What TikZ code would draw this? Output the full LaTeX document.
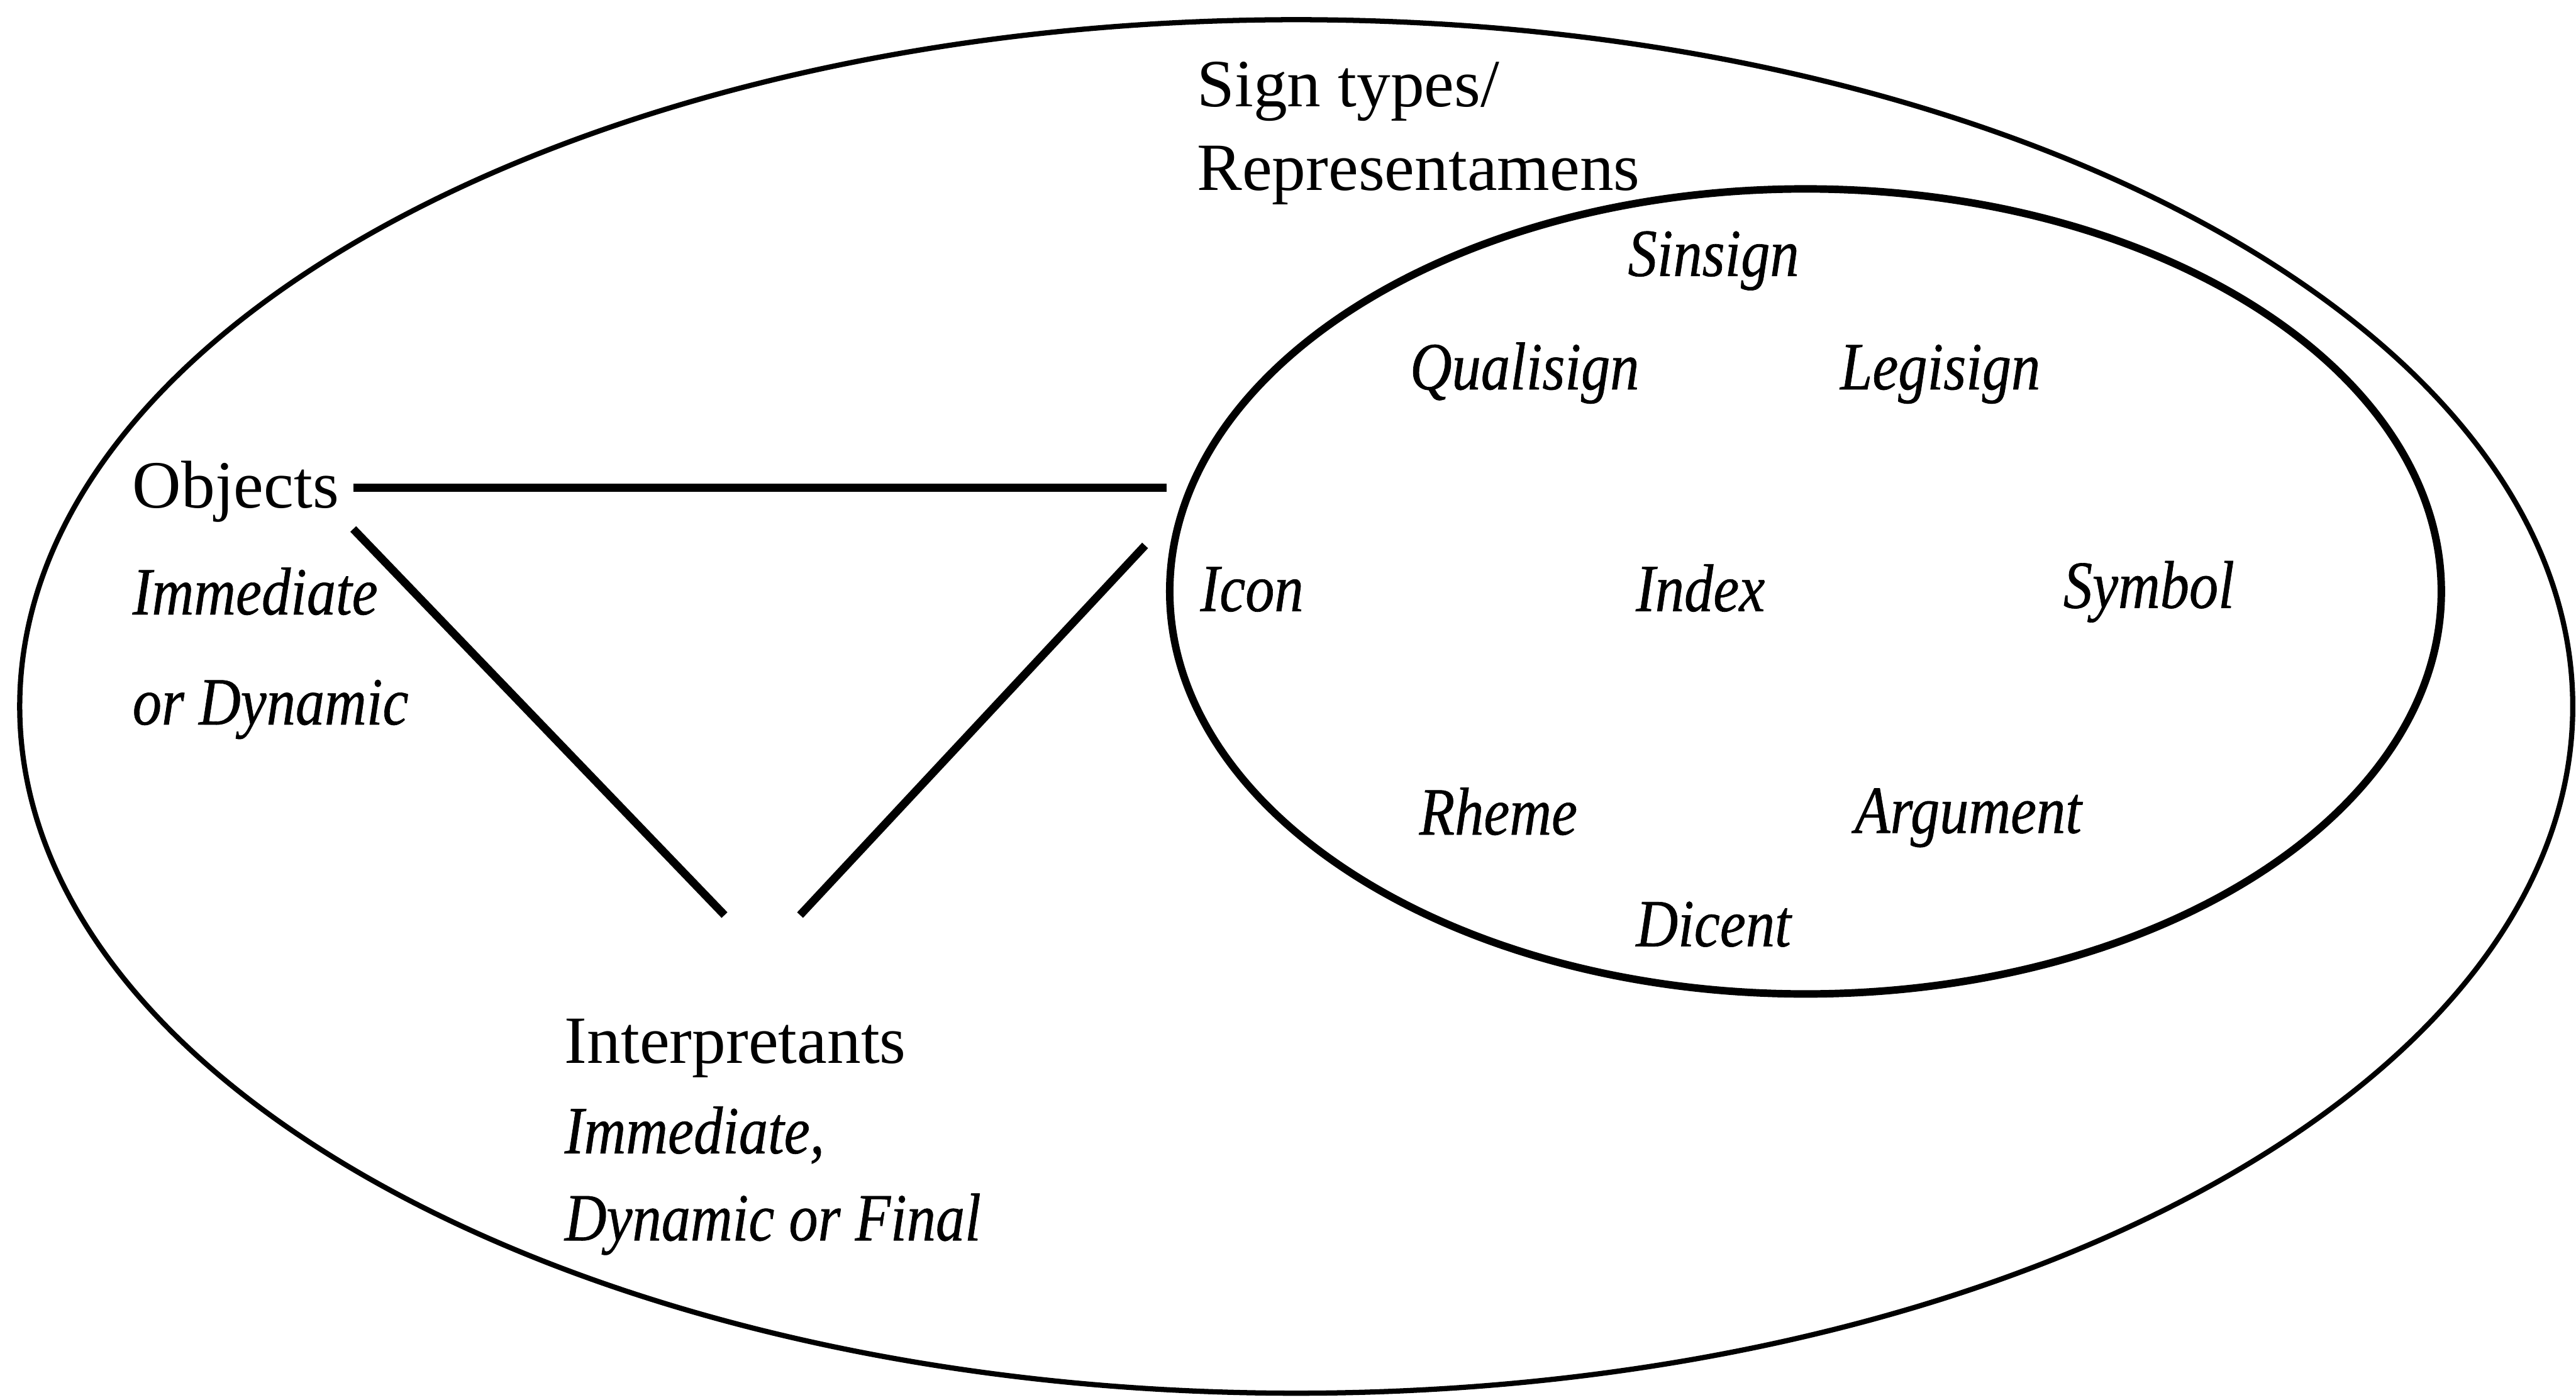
\documentclass[tikz,border=0pt]{standalone}
\usepackage{fontspec}
\setmainfont{Liberation Serif}[ItalicFeatures={FakeStretch=0.86,FakeBold=0.6}]
\begin{document}
\begin{tikzpicture}[x=1cm,y=1cm,
  lbl/.style={inner sep=0pt,font=\fontsize{11.7}{14}\selectfont},
  itl/.style={inner sep=0pt,font=\fontsize{11.7}{14}\selectfont\itshape},
  ilbl/.style={itl,anchor=base},
  conn/.style={line width=1.4pt}]
\useasboundingbox (0,0) rectangle (15.68,8.52);
% outer and inner ellipses
\draw[line width=0.9pt] (7.89,4.22) ellipse [x radius=7.77, y radius=4.18];
\draw[line width=1.3pt] (10.99,4.92) ellipse [x radius=3.87, y radius=2.45];
% texts
\node[lbl,anchor=base west] (sign) at (7.28,7.87) {Sign types/};
\node[lbl,anchor=base west] (rep) at (7.28,7.36) {Representamens};
\node[lbl,anchor=base west] (obj) at (0.80,5.43) {Objects};
\node[itl,anchor=base west] (objA) at (0.80,4.78) {Immediate};
\node[itl,anchor=base west] (objB) at (0.80,4.11) {or Dynamic};
\node[lbl,anchor=base west] (int) at (3.43,2.05) {Interpretants};
\node[itl,anchor=base west] (intA) at (3.43,1.50) {Immediate,};
\node[itl,anchor=base west] (intB) at (3.43,0.97) {Dynamic or Final};
% inner labels
\node[ilbl] (sin) at (10.43,6.84) {Sinsign};
\node[ilbl] (qual) at (9.28,6.15) {Qualisign};
\node[ilbl] (leg) at (11.81,6.15) {Legisign};
\node[ilbl] (icon) at (7.62,4.80) {Icon};
\node[ilbl] (index) at (10.35,4.80) {Index};
\node[ilbl] (sym) at (13.08,4.82) {Symbol};
\node[ilbl] (rheme) at (9.12,3.44) {Rheme};
\node[ilbl] (arg) at (11.98,3.45) {Argument};
\node[ilbl] (dic) at (10.43,2.76) {Dicent};
% connector end points
\coordinate (objR) at (2.15,5.55);
\coordinate (signL) at (7.10,5.55);
\coordinate (objD) at (2.15,5.30);
\coordinate (intL) at (4.41,2.95);
\coordinate (signD) at (6.97,5.20);
\coordinate (intR) at (4.87,2.95);
\draw[conn] (objR) -- (signL);
\draw[conn] (objD) -- (intL);
\draw[conn] (signD) -- (intR);
\end{tikzpicture}
\end{document}
